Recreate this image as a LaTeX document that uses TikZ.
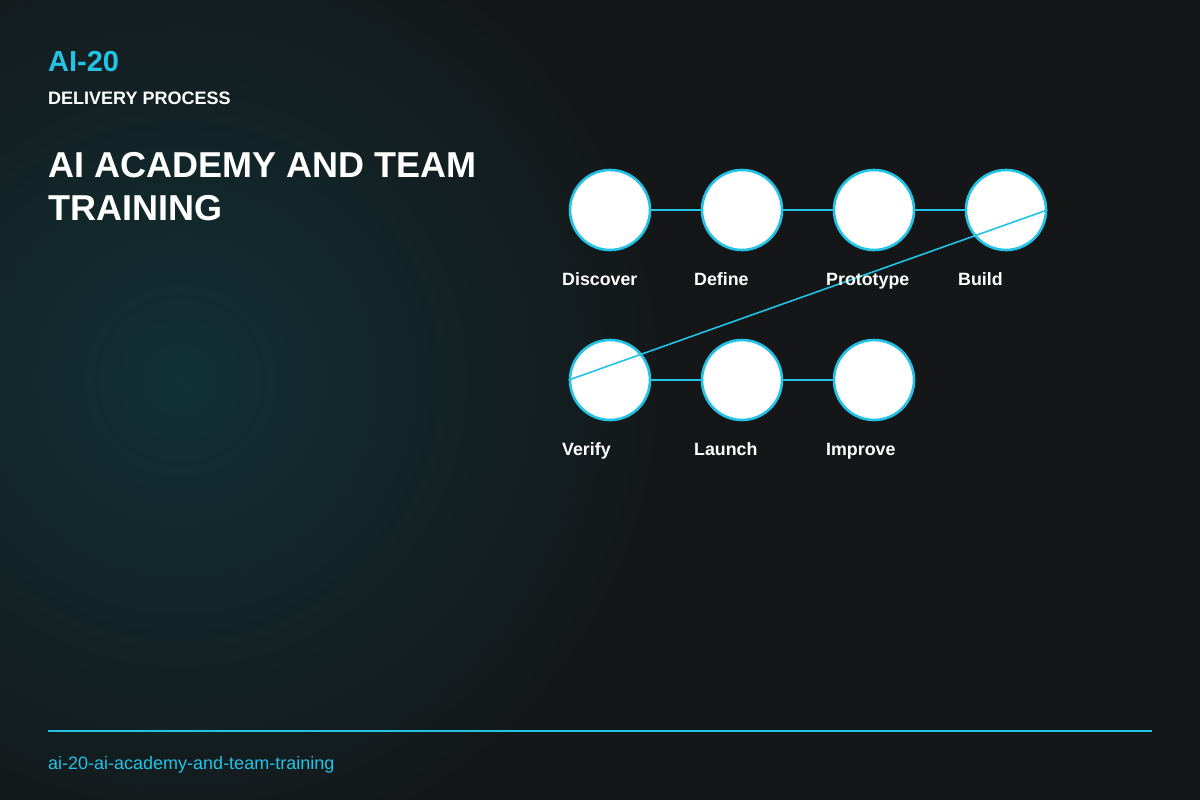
\documentclass[tikz,border=0pt]{standalone}
\usepackage{fontspec}
\setmainfont{Liberation Sans}
\definecolor{accent}{HTML}{22C3E6}
\definecolor{bgdark}{HTML}{141617}
\definecolor{glow}{HTML}{11343A}
\begin{document}
\begin{tikzpicture}[x=1pt,y=-1pt]
% Define the styles
\tikzstyle{stage} = [circle, draw=accent, fill=white, line width=2.6pt, minimum size=80pt, inner sep=0pt]
\tikzstyle{link} = [draw=accent, line width=2.4pt]
\tikzstyle{caption} = [anchor=base west, font=\bfseries\fontsize{17.8}{20}\selectfont, text=white, inner sep=0pt]
\tikzstyle{heading} = [anchor=base west, inner sep=0pt, text=white, font=\bfseries\fontsize{36}{43}\selectfont]

% Background
\useasboundingbox (0,0) rectangle (1200,800);
\fill[bgdark] (0,0) rectangle (1200,800);
\begin{scope}
\clip (0,0) rectangle (1200,800);
\shade[inner color=glow, outer color=bgdark, opacity=0.9] (180,380) ellipse (520 and 520);
\end{scope}

% Header
\node[anchor=base west, inner sep=0pt, text=accent, font=\bfseries\fontsize{29}{34}\selectfont] (code) at (48,71) {AI-20};
\node[anchor=base west, inner sep=0pt, text=white, font=\bfseries\fontsize{18}{22}\selectfont] (kind) at (48,104) {DELIVERY PROCESS};
\node[heading] (title a) at (48,177) {AI ACADEMY AND TEAM};
\node[heading] (title b) at (48,220) {TRAINING};

% Define the stages
\node[stage] (S1) at (610,210) {};
\node[stage] (S2) at (742,210) {};
\node[stage] (S3) at (874,210) {};
\node[stage] (S4) at (1006,210) {};
\node[stage] (S5) at (610,380) {};
\node[stage] (S6) at (742,380) {};
\node[stage] (S7) at (874,380) {};

% Define the links
\draw[link] (S1) -- (S2);
\draw[link] (S2) -- (S3);
\draw[link] (S3) -- (S4);
\draw[link] (S5) -- (S6);
\draw[link] (S6) -- (S7);
\draw[accent, line width=1.6pt] (S4.east) -- (S5.west);

% Captions
\node[caption] (L1) at (562,285) {Discover};
\node[caption] (L2) at (694,285) {Define};
\node[caption] (L3) at (826,285) {Prototype};
\node[caption] (L4) at (958,285) {Build};
\node[caption] (L5) at (562,455) {Verify};
\node[caption] (L6) at (694,455) {Launch};
\node[caption] (L7) at (826,455) {Improve};

% Footer
\coordinate (rule a) at (48,731);
\coordinate (rule b) at (1152,731);
\draw[accent, line width=1.6pt] (rule a) -- (rule b);
\node[anchor=base west, inner sep=0pt, text=accent, font=\fontsize{18}{22}\selectfont] (slug) at (48,769) {ai-20-ai-academy-and-team-training};
\end{tikzpicture}
\end{document}
